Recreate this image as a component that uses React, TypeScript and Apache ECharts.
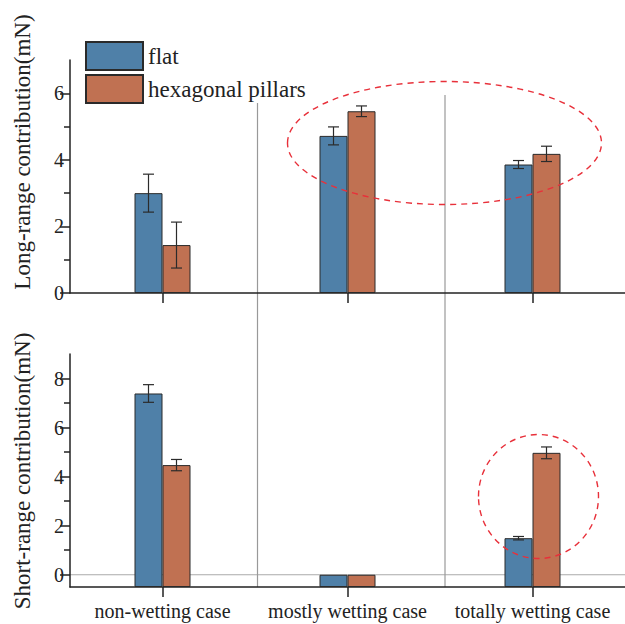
import React, { useEffect, useRef } from "react";
import * as echarts from "echarts";

const categories = ["non-wetting case", "mostly wetting case", "totally wetting case"];
const seriesNames = ["flat", "hexagonal pillars"];

const longFlat = [3.0, 4.72, 3.86];
const longFlatErr = [0.57, 0.27, 0.12];
const longHex = [1.44, 5.46, 4.18];
const longHexErr = [0.69, 0.16, 0.23];

const shortFlat = [7.39, 0, 1.49];
const shortFlatErr = [0.36, 0, 0.07];
const shortHex = [4.47, 0, 4.97];
const shortHexErr = [0.23, 0, 0.24];

const longMax = 7;
const longMajorTicks = [0, 2, 4, 6];
const longMinorTicks = [1, 3, 5];
const shortMin = -0.5;
const shortMax = 9;
const shortMajorTicks = [0, 2, 4, 6, 8];
const shortMinorTicks = [1, 3, 5, 7];

const BLUE = "#4f80a8";
const ORANGE = "#c07152";
const DARK = "#222";
const FONT = "Liberation Serif";

const GRID_LEFT = 70;
const GRID_W = 562.5;
const GRID_H = 233;
const TOP1 = 60;
const TOP2 = 354;
const BAR_W = 28;

// bars in the lower panel start at the axis minimum, so the axis is shifted
const SHIFT = -shortMin;

export default function App() {
  const ref = useRef<HTMLDivElement>(null);
  useEffect(() => {
    if (!ref.current) return;
    const chart = echarts.init(ref.current, null, { renderer: "svg" });

    const errSeries = (
      vals: number[],
      errs: number[],
      dx: number,
      xAxisIndex: number,
      yAxisIndex: number,
      shift: number
    ) => ({
      type: "custom",
      xAxisIndex,
      yAxisIndex,
      z: 5,
      silent: true,
      data: vals.map((v, i) => [i, v + shift, errs[i]]),
      renderItem: (params: any, api: any) => {
        const x = api.value(0);
        const v = api.value(1);
        const e = api.value(2);
        if (!e) return null;
        const t = api.coord([x, v + e]);
        const b = api.coord([x, v - e]);
        const cx = t[0] + dx;
        const st = { stroke: "#2b2b2b", lineWidth: 1.2 };
        return {
          type: "group",
          children: [
            { type: "line", shape: { x1: cx, y1: t[1], x2: cx, y2: b[1] }, style: st },
            { type: "line", shape: { x1: cx - 5.5, y1: t[1], x2: cx + 5.5, y2: t[1] }, style: st },
            { type: "line", shape: { x1: cx - 5.5, y1: b[1], x2: cx + 5.5, y2: b[1] }, style: st },
          ],
        };
      },
    });

    const barSeries = (
      name: string,
      vals: number[],
      color: string,
      xAxisIndex: number,
      yAxisIndex: number,
      shift: number
    ) => ({
      type: "bar",
      name,
      xAxisIndex,
      yAxisIndex,
      barWidth: BAR_W,
      barGap: "0%",
      z: 2,
      itemStyle: { color, borderColor: "#2a2a2a", borderWidth: 1 },
      data: vals.map((v) => v + shift),
    });

    const xAxisBase = (gridIndex: number, showLabel: boolean) => ({
      type: "category",
      gridIndex,
      data: categories,
      boundaryGap: true,
      axisLine: { show: true, onZero: false, lineStyle: { color: DARK, width: 1.5 } },
      axisTick: { show: true, alignWithLabel: true, length: 10, lineStyle: { color: DARK, width: 1.5 } },
      axisLabel: {
        show: showLabel,
        interval: 0,
        margin: 14,
        fontSize: 20,
        fontFamily: FONT,
        color: DARK,
      },
      splitLine: { show: false },
    });

    const yMain = (
      gridIndex: number,
      min: number,
      max: number,
      ticks: number[],
      shift: number
    ) => ({
      type: "value",
      gridIndex,
      position: "left",
      min,
      max,
      axisLine: { show: true, lineStyle: { color: DARK, width: 1.5 } },
      axisTick: {
        show: true,
        length: 10,
        customValues: ticks.map((t) => t + shift),
        lineStyle: { color: DARK, width: 1.5 },
      },
      axisLabel: {
        show: true,
        margin: 6,
        fontSize: 20,
        fontFamily: FONT,
        color: DARK,
        customValues: ticks.map((t) => t + shift),
        formatter: (v: number) => String(Math.round(v - shift)),
      },
      splitLine: { show: false },
    });

    const yMinor = (
      gridIndex: number,
      min: number,
      max: number,
      ticks: number[],
      shift: number
    ) => ({
      type: "value",
      gridIndex,
      position: "left",
      offset: 0,
      min,
      max,
      axisLine: { show: false },
      axisTick: {
        show: true,
        length: 6,
        customValues: ticks.map((t) => t + shift),
        lineStyle: { color: DARK, width: 1.5 },
      },
      axisLabel: { show: false },
      splitLine: { show: false },
    });

    const zeroY = TOP2 + GRID_H * (shortMax - 0) / (shortMax - shortMin);
    const sep1 = GRID_LEFT + GRID_W / 3;
    const sep2 = GRID_LEFT + (2 * GRID_W) / 3;
    const sepBottom = TOP2 + GRID_H;

    const option: any = {
      animation: false,
      backgroundColor: "#ffffff",
      textStyle: { fontFamily: FONT },
      legend: {
        data: seriesNames,
        orient: "vertical",
        left: 85,
        top: 41,
        padding: 0,
        itemWidth: 57,
        itemHeight: 28,
        itemGap: 3,
        icon: "rect",
        textStyle: { fontSize: 23, fontFamily: FONT, color: DARK },
        selectedMode: false,
      },
      grid: [
        { left: GRID_LEFT, top: TOP1, width: GRID_W, height: GRID_H },
        { left: GRID_LEFT, top: TOP2, width: GRID_W, height: GRID_H },
      ],
      xAxis: [xAxisBase(0, false), xAxisBase(1, true)],
      yAxis: [
        yMain(0, 0, longMax, longMajorTicks, 0),
        yMinor(0, 0, longMax, longMinorTicks, 0),
        yMain(1, 0, shortMax + SHIFT, shortMajorTicks, SHIFT),
        yMinor(1, 0, shortMax + SHIFT, shortMinorTicks, SHIFT),
      ],
      series: [
        barSeries(seriesNames[0], longFlat, BLUE, 0, 0, 0),
        barSeries(seriesNames[1], longHex, ORANGE, 0, 0, 0),
        errSeries(longFlat, longFlatErr, -BAR_W / 2, 0, 0, 0),
        errSeries(longHex, longHexErr, BAR_W / 2, 0, 0, 0),
        barSeries(seriesNames[0], shortFlat, BLUE, 1, 2, SHIFT),
        barSeries(seriesNames[1], shortHex, ORANGE, 1, 2, SHIFT),
        errSeries(shortFlat, shortFlatErr, -BAR_W / 2, 1, 2, SHIFT),
        errSeries(shortHex, shortHexErr, BAR_W / 2, 1, 2, SHIFT),
      ],
      graphic: [
        {
          type: "line",
          z: 0,
          shape: { x1: GRID_LEFT, y1: zeroY, x2: 625, y2: zeroY },
          style: { stroke: "#aaaaaa", lineWidth: 1.2 },
        },
        {
          type: "line",
          z: 0,
          shape: { x1: sep1, y1: 103, x2: sep1, y2: sepBottom },
          style: { stroke: "#999999", lineWidth: 1.2 },
        },
        {
          type: "line",
          z: 0,
          shape: { x1: sep2, y1: 95, x2: sep2, y2: sepBottom },
          style: { stroke: "#999999", lineWidth: 1.2 },
        },
        {
          type: "ellipse",
          z: 10,
          shape: { cx: 444.5, cy: 143, rx: 157, ry: 61.5 },
          style: { fill: "none", stroke: "#e8303a", lineWidth: 1.4, lineDash: [6, 5] },
        },
        {
          type: "ellipse",
          z: 10,
          shape: { cx: 538.5, cy: 496.5, rx: 60, ry: 62 },
          style: { fill: "none", stroke: "#e8303a", lineWidth: 1.4, lineDash: [6, 5] },
        },
        {
          type: "text",
          x: 22,
          y: 152,
          rotation: Math.PI / 2,
          style: {
            text: "Long-range contribution(mN)",
            fontSize: 23,
            fontFamily: FONT,
            fill: DARK,
            textAlign: "center",
            textVerticalAlign: "middle",
          },
        },
        {
          type: "text",
          x: 22,
          y: 471,
          rotation: Math.PI / 2,
          style: {
            text: "Short-range contribution(mN)",
            fontSize: 23,
            fontFamily: FONT,
            fill: DARK,
            textAlign: "center",
            textVerticalAlign: "middle",
          },
        },
      ],
    };

    chart.setOption(option);
    return () => chart.dispose();
  }, []);

  return (
    <>
      <style>{`.chart-root svg text { font-family: "Liberation Serif", serif !important; }`}</style>
      <div
        ref={ref}
        className="chart-root"
        style={{ position: "fixed", left: 0, top: 0, width: 625, height: 624, background: "#fff" }}
      />
    </>
  );
}
